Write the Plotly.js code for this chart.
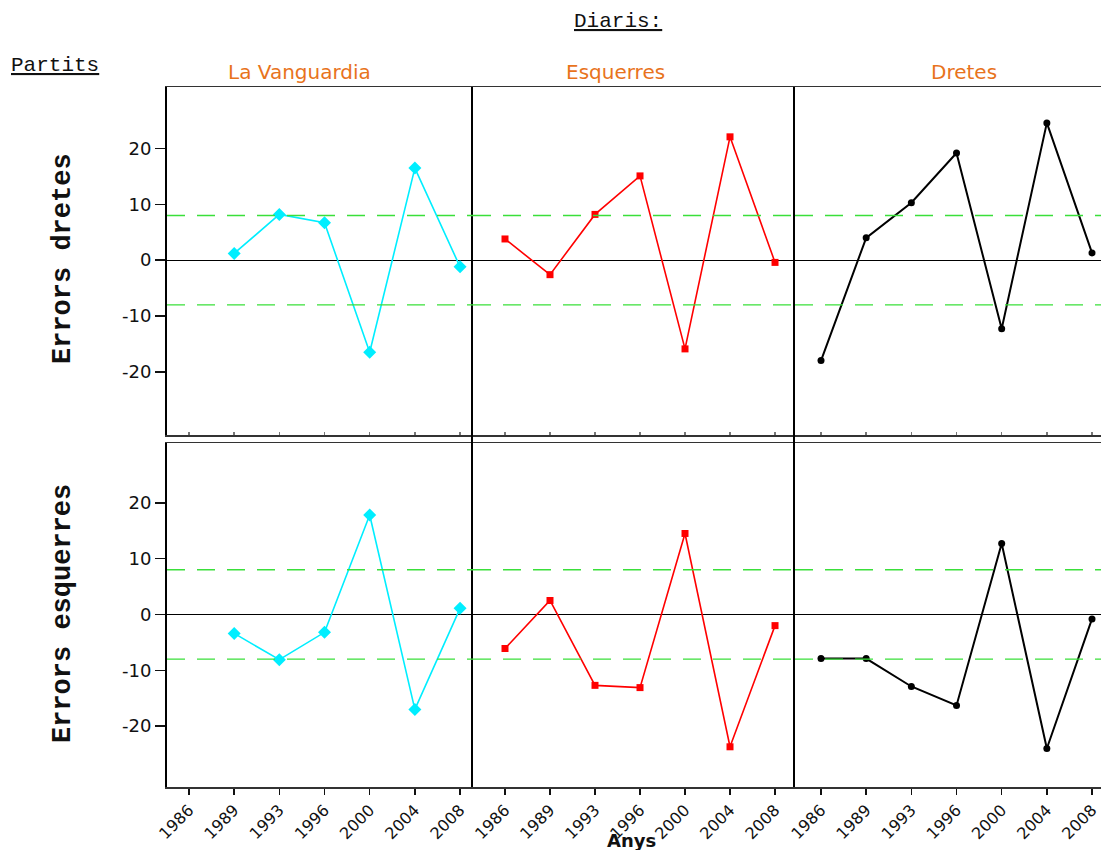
<!DOCTYPE html>
<html>
<head>
<meta charset="utf-8">
<script src="https://cdn.plot.ly/plotly-3.0.1.min.js"></script>
<style>html,body{margin:0;padding:0;background:#fff;}#chart{width:1101px;height:850px;}</style>
</head>
<body>
<div id="chart"></div>
<script>
// ---- data ----
const years = ['1986', '1989', '1993', '1996', '2000', '2004', '2008'];
const diaris = ['La Vanguardia', 'Esquerres', 'Dretes'];
const partits = ['Errors dretes', 'Errors esquerres'];
const yTicks = [-20, -10, 0, 10, 20];
const yTickText = ['-20', '-10', '0', '10', '20'];
const limits = [8, -8];

// Errors dretes (top row)
const dretesLaVanguardia = [null, 1.2, 8.2, 6.7, -16.5, 16.5, -1.2];
const dretesEsquerres    = [3.8, -2.6, 8.2, 15.1, -15.9, 22.1, -0.4];
const dretesDretes       = [-18.0, 4.0, 10.3, 19.2, -12.3, 24.6, 1.3];
// Errors esquerres (bottom row)
const esquerresLaVanguardia = [null, -3.4, -8.1, -3.2, 17.8, -17.0, 1.1];
const esquerresEsquerres    = [-6.1, 2.5, -12.7, -13.1, 14.5, -23.7, -2.0];
const esquerresDretes       = [-7.9, -7.9, -12.9, -16.3, 12.7, -24.0, -0.8];

const seriesGrid = [
  [dretesLaVanguardia, dretesEsquerres, dretesDretes],
  [esquerresLaVanguardia, esquerresEsquerres, esquerresDretes]
];

// ---- styling ----
const W = 1101, H = 850;
const colStyles = [
  {color: '#00EEFF', symbol: 'diamond', size: 10, width: 1.6},
  {color: '#FF0000', symbol: 'square', size: 7, width: 1.6},
  {color: '#000000', symbol: 'circle', size: 7, width: 2}
];
const colPx = [[167, 473], [473, 795], [795, 1101]];
const xRanges = [[-0.487, 6.287], [-0.711, 6.444], [-0.576, 6.199]];
const rowPx = [[87, 435], [443, 787]];
const yRanges = [[-31.33, 31.03], [-30.9, 30.7]];

const yTickFont = {family: 'DejaVu Sans, Verdana, sans-serif', size: 18, color: '#111'};
const xTickFont = {family: 'DejaVu Sans, Verdana, sans-serif', size: 16, color: '#111'};
const traces = [];
const layout = {
  width: W, height: H,
  margin: {l: 0, r: 0, t: 0, b: 0},
  paper_bgcolor: '#fff', plot_bgcolor: '#fff',
  showlegend: false,
  shapes: [], annotations: []
};

for (let r = 0; r < 2; r++) {
  for (let c = 0; c < 3; c++) {
    const i = r * 3 + c + 1;
    const xa = 'x' + (i === 1 ? '' : i), ya = 'y' + (i === 1 ? '' : i);
    const st = colStyles[c];
    traces.push({
      type: 'scatter', mode: 'lines+markers',
      x: years, y: seriesGrid[r][c],
      xaxis: xa, yaxis: ya,
      line: {color: st.color, width: st.width},
      marker: {color: st.color, symbol: st.symbol, size: st.size},
      connectgaps: false, hoverinfo: 'x+y'
    });
    const xKey = 'xaxis' + (i === 1 ? '' : i), yKey = 'yaxis' + (i === 1 ? '' : i);
    layout[xKey] = {
      type: 'category', categoryorder: 'array', categoryarray: years,
      domain: [colPx[c][0] / W, colPx[c][1] / W],
      range: xRanges[c],
      anchor: ya,
      showgrid: false, zeroline: false,
      showline: true, mirror: true, linecolor: '#333', linewidth: 1.5,
      ticks: r === 1 ? 'outside' : 'inside', ticklen: r === 1 ? 6 : 3, tickwidth: 1.5, tickcolor: r === 1 ? '#111' : '#777',
      showticklabels: r === 1, tickangle: -45, tickfont: xTickFont
    };
    layout[yKey] = {
      domain: [(H - rowPx[r][1]) / H, (H - rowPx[r][0]) / H],
      range: yRanges[r],
      anchor: xa,
      showgrid: false,
      zeroline: true, zerolinecolor: '#000', zerolinewidth: 1,
      showline: true, mirror: false, linecolor: '#000', linewidth: 2,
      tickmode: 'array', tickvals: yTicks, ticktext: yTickText,
      ticks: c === 0 ? 'outside' : '', ticklen: 10, tickwidth: 1.5, tickcolor: '#111',
      showticklabels: c === 0, tickfont: yTickFont
    };
    limits.forEach(v => {
      layout.shapes.push({
        type: 'line', xref: xa + ' domain', yref: ya,
        x0: 0, x1: 1, y0: v, y1: v,
        line: {color: '#3ADF3A', width: 1.3, dash: '18px,12px'}
      });
    });
  }
}

// vertical separators crossing the gap between rows
[473, 795].forEach(px => {
  layout.shapes.push({
    type: 'line', xref: 'paper', yref: 'paper',
    x0: (px - 1) / W, x1: (px - 1) / W, y0: (H - 444) / H, y1: (H - 434) / H,
    line: {color: '#000', width: 2}
  });
});

// facet labels
const facetX = [299, 615, 964];
diaris.forEach((d, c) => {
  layout.annotations.push({
    text: d, xref: 'paper', yref: 'paper',
    x: facetX[c] / W, y: (H - 72) / H, xanchor: 'center', yanchor: 'middle',
    showarrow: false,
    font: {family: 'DejaVu Sans, Verdana, sans-serif', size: 20, color: '#E8731C'}
  });
});

// row titles
const rowTitleY = [259, 614];
partits.forEach((p, r) => {
  layout.annotations.push({
    text: '<b>' + p + '</b>', xref: 'paper', yref: 'paper',
    x: 63 / W, y: (H - rowTitleY[r]) / H, xanchor: 'center', yanchor: 'middle',
    textangle: -90, showarrow: false,
    font: {family: 'Liberation Mono, Courier New, monospace', size: 27, color: '#111'}
  });
});

// headers
layout.annotations.push({
  text: '<u>Diaris:</u>', xref: 'paper', yref: 'paper',
  x: 618 / W, y: (H - 22) / H, xanchor: 'center', yanchor: 'middle', showarrow: false,
  font: {family: 'Liberation Mono, Courier New, monospace', size: 21, color: '#111'}
});
layout.annotations.push({
  text: '<u>Partits</u>', xref: 'paper', yref: 'paper',
  x: 9 / W, y: (H - 66) / H, xanchor: 'left', yanchor: 'middle', showarrow: false,
  font: {family: 'Liberation Mono, Courier New, monospace', size: 21, color: '#111'}
});
layout.annotations.push({
  text: '<b>Anys</b>', xref: 'paper', yref: 'paper',
  x: 631 / W, y: (H - 840) / H, xanchor: 'center', yanchor: 'middle', showarrow: false,
  font: {family: 'DejaVu Sans, Verdana, sans-serif', size: 18, color: '#111'}
});

Plotly.newPlot('chart', traces, layout, {staticPlot: true, displayModeBar: false});
</script>
</body>
</html>
